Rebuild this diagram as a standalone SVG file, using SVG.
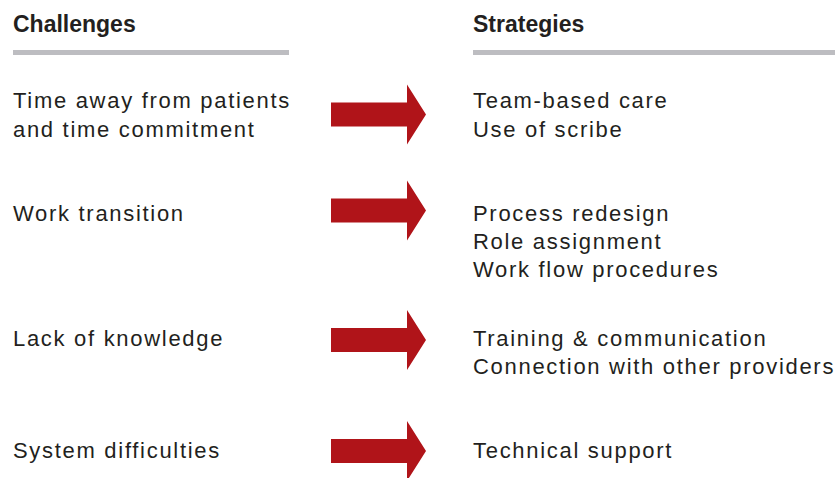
<svg xmlns="http://www.w3.org/2000/svg" width="835" height="478" viewBox="0 0 835 478">
<defs>
<style>
.hd{font-family:"Liberation Sans",Arial,sans-serif;font-weight:bold;font-size:23px;fill:#231f20}
.tx{font-family:"Liberation Sans",Arial,sans-serif;font-size:22px;letter-spacing:1.7px;fill:#231f20}
.bar{fill:#bdbdc1}
.arr{fill:#b01419}
</style>
<path id="arrow" d="M0,-12 H76 V-30 L95,0 L76,30 V12 H0 Z"/>
</defs>
<g id="header-challenges">
<text class="hd" x="13" y="32">Challenges</text>
<rect class="bar" x="13" y="50" width="276" height="5"/>
</g>
<g id="header-strategies">
<text class="hd" x="473" y="32">Strategies</text>
<rect class="bar" x="473" y="50" width="362" height="5"/>
</g>
<g id="challenge-1"><text class="tx" x="13" y="108">Time away from patients</text><text class="tx" x="13" y="136.5">and time commitment</text></g>
<g id="challenge-2"><text class="tx" x="13" y="220.5">Work transition</text></g>
<g id="challenge-3"><text class="tx" x="13" y="346">Lack of knowledge</text></g>
<g id="challenge-4"><text class="tx" x="13" y="458">System difficulties</text></g>
<g id="strategy-1"><text class="tx" x="473" y="108">Team-based care</text><text class="tx" x="473" y="136.5">Use of scribe</text></g>
<g id="strategy-2"><text class="tx" x="473" y="220.5">Process redesign</text><text class="tx" x="473" y="248.5">Role assignment</text><text class="tx" x="473" y="276.5">Work flow procedures</text></g>
<g id="strategy-3"><text class="tx" x="473" y="346">Training &amp; communication</text><text class="tx" x="473" y="374">Connection with other providers</text></g>
<g id="strategy-4"><text class="tx" x="473" y="458">Technical support</text></g>
<g id="connectors">
<use href="#arrow" class="arr" x="331" y="114.5"/>
<use href="#arrow" class="arr" x="331" y="210.5"/>
<use href="#arrow" class="arr" x="331" y="340"/>
<use href="#arrow" class="arr" x="331" y="451"/>
</g>
</svg>
